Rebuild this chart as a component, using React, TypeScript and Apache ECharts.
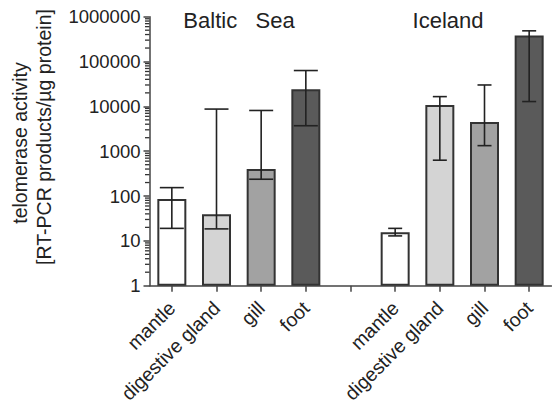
import React, { useEffect, useRef } from "react";
import * as echarts from "echarts";

const categories = ["mantle", "digestive gland", "gill", "foot", "", "mantle", "digestive gland", "gill", "foot"];
const means = [86, 39, 400, 24000, null, 15.5, 10700, 4500, 380000];
const errLow = [19, 18.5, 237, 3700, null, 12.9, 630, 1330, 12800];
const errHigh = [154, 8700, 8100, 63000, null, 19, 16500, 30000, 484000];
const groupTitles = ["Baltic   Sea", "Iceland"];
const yTicks = [1, 10, 100, 1000, 10000, 100000, 1000000];
const yNameLines = ["telomerase activity", "[RT-PCR products/µg protein]"];

const tissueColors = ["#ffffff", "#d4d4d4", "#a2a2a2", "#5a5a5a"];

const GRID_LEFT = 149.5;
const GRID_TOP = 16.7;
const GRID_BOTTOM = 126.3;
const GRID_WIDTH = 402;

export default function App() {
  const ref = useRef<HTMLDivElement>(null);
  useEffect(() => {
    if (!ref.current) return;
    const chart = echarts.init(ref.current, null, { renderer: "svg" });

    const barData = means.map((v, i) => {
      if (v === null) return "-";
      const tissue = i < 4 ? i : i - 5;
      return { value: v, itemStyle: { color: tissueColors[tissue] } };
    });

    const errData: any[] = [];
    means.forEach((v, i) => {
      if (v !== null) errData.push([i, errLow[i], errHigh[i]]);
    });

    const minorVals: number[][] = [];
    for (let k = 0; k < yTicks.length - 1; k++) {
      for (let m = 2; m <= 9; m++) minorVals.push([1, m * yTicks[k]]);
    }

    const font = "Liberation Sans, Arial, sans-serif";

    chart.setOption({
      animation: false,
      backgroundColor: "#ffffff",
      grid: [
        { left: GRID_LEFT, top: GRID_TOP, bottom: GRID_BOTTOM, width: GRID_WIDTH, containLabel: false },
        { left: GRID_LEFT - 6, top: GRID_TOP, bottom: GRID_BOTTOM, width: 6, containLabel: false },
      ],
      xAxis: [
        {
          type: "category",
          data: categories,
          gridIndex: 0,
          axisLine: { show: true, lineStyle: { color: "#444", width: 1.5 } },
          axisTick: { show: true, alignWithLabel: true, interval: 0, length: 6, lineStyle: { color: "#444", width: 1.5 } },
          axisLabel: {
            interval: 0,
            rotate: 45,
            fontSize: 19.5,
            fontFamily: font,
            color: "#222",
            margin: 19,
          },
        },
        { type: "value", gridIndex: 1, min: 0, max: 1, show: false },
      ],
      yAxis: [
        {
          type: "log",
          logBase: 10,
          min: 1,
          max: 1000000,
          gridIndex: 0,
          axisLine: { show: true, lineStyle: { color: "#444", width: 1.5 } },
          axisTick: { show: true, length: 6, lineStyle: { color: "#444", width: 1.5 } },
          splitLine: { show: false },
          axisLabel: {
            fontSize: 18.5,
            fontFamily: font,
            color: "#222",
            margin: 9,
            formatter: (v: number) => String(Math.round(v)),
          },
        },
        { type: "log", logBase: 10, min: 1, max: 1000000, gridIndex: 1, show: false },
      ],
      graphic: [
        { type: "text", x: 239, y: 20, style: { text: groupTitles[0], fontSize: 22, fontFamily: font, fill: "#222", align: "center", verticalAlign: "middle" } },
        { type: "text", x: 448, y: 20, style: { text: groupTitles[1], fontSize: 22, fontFamily: font, fill: "#222", align: "center", verticalAlign: "middle" } },
        { type: "text", x: 20, y: 143, rotation: Math.PI / 2, style: { text: yNameLines[0], fontSize: 19.5, fontFamily: font, fill: "#222", align: "center", verticalAlign: "middle" } },
        { type: "text", x: 44, y: 137, rotation: Math.PI / 2, style: { text: yNameLines[1], fontSize: 19.5, fontFamily: font, fill: "#222", align: "center", verticalAlign: "middle" } },
      ],
      series: [
        {
          type: "bar",
          data: barData,
          barWidth: 29,
          itemStyle: { borderColor: "#333", borderWidth: 2 },
          z: 2,
        },
        {
          type: "custom",
          data: errData,
          z: 3,
          clip: false,
          renderItem: (params: any, api: any) => {
            const idx = api.value(0);
            const lo = api.coord([idx, api.value(1)]);
            const hi = api.coord([idx, api.value(2)]);
            const cap = idx < 4 ? 12 : 7;
            const st = { stroke: "#222", lineWidth: 1.6 };
            return {
              type: "group",
              children: [
                { type: "line", shape: { x1: hi[0], y1: hi[1], x2: lo[0], y2: lo[1] }, style: st },
                { type: "line", shape: { x1: hi[0] - cap, y1: hi[1], x2: hi[0] + cap, y2: hi[1] }, style: st },
                { type: "line", shape: { x1: lo[0] - cap, y1: lo[1], x2: lo[0] + cap, y2: lo[1] }, style: st },
              ],
            };
          },
        },
        {
          type: "custom",
          xAxisIndex: 1,
          yAxisIndex: 1,
          data: minorVals,
          z: 4,
          clip: false,
          renderItem: (params: any, api: any) => {
            const p = api.coord([api.value(0), api.value(1)]);
            return {
              type: "line",
              shape: { x1: p[0] - 4.5, y1: p[1], x2: p[0], y2: p[1] },
              style: { stroke: "#333", lineWidth: 1.3 },
            };
          },
        },
      ],
    });
    return () => chart.dispose();
  }, []);
  return <div ref={ref} style={{ position: "absolute", left: 0, top: 0, width: 552, height: 412 }} />;
}
